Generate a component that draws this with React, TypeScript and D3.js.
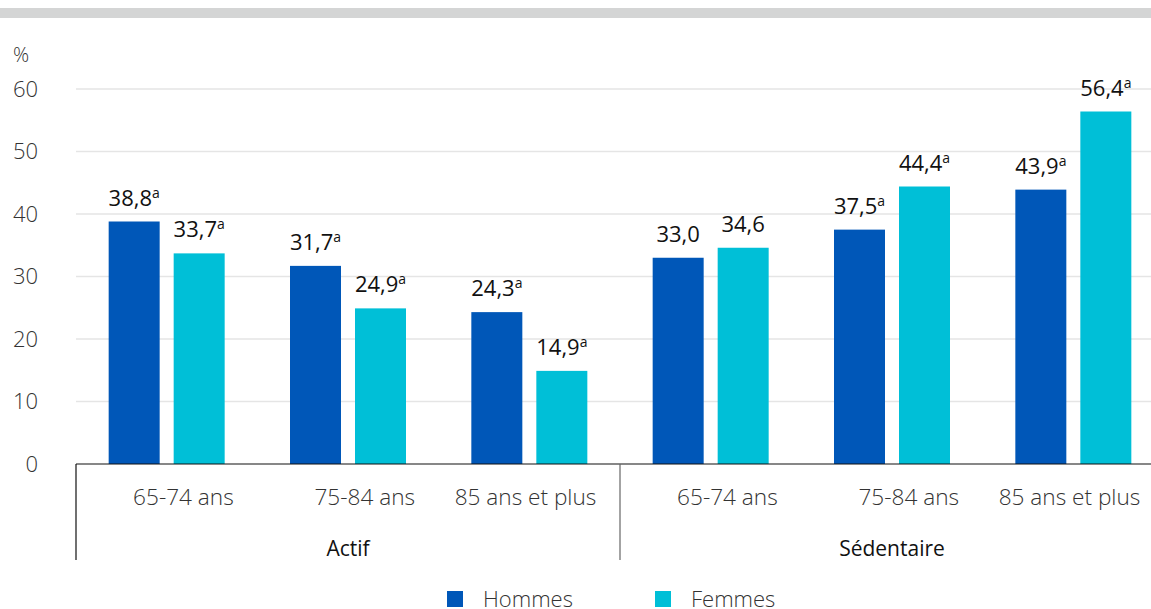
import React from "react";
import * as d3 from "d3";

const groups = ["Actif", "Sédentaire"];
const ageLabels = ["65-74 ans", "75-84 ans", "85 ans et plus"];
const seriesNames = ["Hommes", "Femmes"];
const hommes = [38.8, 31.7, 24.3, 33.0, 37.5, 43.9];
const femmes = [33.7, 24.9, 14.9, 34.6, 44.4, 56.4];
const hommesSup = ["a", "a", "a", "", "a", "a"];
const femmesSup = ["a", "a", "a", "", "a", "a"];
const yTicks = [0, 10, 20, 30, 40, 50, 60];

const W = 1151;
const H = 609;
const colors = ["#0057b8", "#00bfd7"];
const FONT = "'Open Sans', 'Noto Sans', sans-serif";

export default function App() {
  const categories = groups.flatMap((g) => ageLabels.map((a) => `${g}|${a}`));
  const x0 = 76;
  const x1 = 1164;
  const xBand = d3.scaleBand<string>().domain(categories).range([x0, x1]).paddingInner(0).paddingOuter(0);
  const y = d3.scaleLinear().domain([0, 60]).range([464, 89]);
  const step = xBand.bandwidth();
  const barW = 51;
  const gap = 14;
  const inner = d3
    .scaleBand<string>()
    .domain(seriesNames)
    .range([(step - 2 * barW - gap) / 2, (step + 2 * barW + gap) / 2])
    .paddingInner(gap / (barW + gap))
    .paddingOuter(0);

  const groupScale = d3.scaleBand<string>().domain(groups).range([x0, x1]);
  const series = [
    { name: seriesNames[0], values: hommes, sups: hommesSup, color: colors[0] },
    { name: seriesNames[1], values: femmes, sups: femmesSup, color: colors[1] },
  ];

  return (
    <div style={{ position: "absolute", left: 0, top: 0 }}>
      <svg width={W} height={H} style={{ display: "block", fontFamily: FONT }}>
        <rect x={0} y={8} width={W} height={10} fill="#d4d5d5" />
        <text x={13} y={62} fontSize={20} fontWeight={300} fill="#333">%</text>
        {yTicks.map((t) => (
          <g key={t}>
            {t > 0 && (
              <line x1={x0} x2={W} y1={y(t)} y2={y(t)} stroke="#e5e5e5" strokeWidth={1.5} />
            )}
            <text x={38} y={y(t)} dy="0.36em" textAnchor="end" fontSize={22} fontWeight={300} fill="#333">
              {t}
            </text>
          </g>
        ))}
        {series.map((s) =>
          s.values.map((v, i) => {
            const bx = (xBand(categories[i]) as number) + (inner(s.name) as number);
            const bw = inner.bandwidth();
            return (
              <g key={s.name + i}>
                <rect x={bx} y={y(v)} width={bw} height={y(0) - y(v)} fill={s.color} />
                <text x={bx + bw / 2} y={y(v) - 16} textAnchor="middle" fontSize={22} fill="#111">
                  {v.toFixed(1).replace(".", ",")}
                  {s.sups[i] && (
                    <tspan fontSize={14} dy={-8}>{s.sups[i]}</tspan>
                  )}
                </text>
              </g>
            );
          })
        )}
        <line x1={x0} x2={W} y1={464} y2={464} stroke="#111" strokeWidth={1.2} />
        <line x1={x0} x2={x0} y1={464} y2={560} stroke="#111" strokeWidth={1.2} />
        <line x1={(groupScale("Sédentaire") as number)} x2={(groupScale("Sédentaire") as number)} y1={464} y2={560} stroke="#666" strokeWidth={1.2} />
        {categories.map((c) => (
          <text key={c} x={(xBand(c) as number) + step / 2 + 67} y={505} textAnchor="end" fontSize={22.6} fontWeight={300} fill="#333">
            {c.split("|")[1]}
          </text>
        ))}
        {groups.map((g) => (
          <text key={g} x={(groupScale(g) as number) + groupScale.bandwidth() / 2} y={556} textAnchor="middle" fontSize={21} fill="#111">
            {g}
          </text>
        ))}
        {series.map((s, i) => (
          <g key={s.name} transform={`translate(${447 + i * 208},591)`}>
            <rect x={0} y={0} width={16} height={16} fill={s.color} />
            <text x={36} y={16} fontSize={22} fontWeight={300} fill="#333">{s.name}</text>
          </g>
        ))}
      </svg>
    </div>
  );
}
